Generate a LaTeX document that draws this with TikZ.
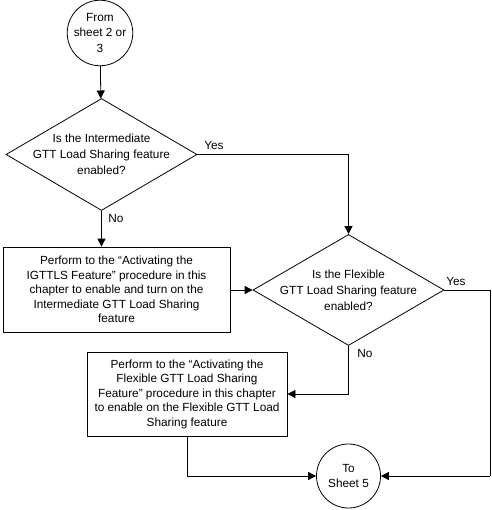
\documentclass[tikz,border=0pt]{standalone}
\usepackage{fontspec}
\setmainfont{Liberation Sans}
\usetikzlibrary{shapes.geometric,arrows.meta}
\begin{document}
\begin{tikzpicture}[x=1pt,y=1pt,
  line width=0.8pt,
  conn/.style={draw,-{Triangle[length=8pt,width=8pt]}},
  plain/.style={draw},
  term/.style={circle,draw,minimum size=64pt,inner sep=0pt,align=center,font=\fontsize{11.8}{15.5}\selectfont},
  dec/.style={diamond,draw,inner sep=0pt},
  dectext/.style={align=center,font=\fontsize{11.8}{16}\selectfont},
  procbox/.style={rectangle,draw,inner sep=0pt,align=center,font=\fontsize{11.8}{14.5}\selectfont},
  lbl/.style={font=\fontsize{11.8}{13}\selectfont,inner sep=0pt}]
\useasboundingbox (0,0) rectangle (491,-510);
\node[term] (start) at (100,-33) {From\\sheet 2 or\\3};
\node[dec,minimum width=191pt,minimum height=112pt] (d1) at (101.5,-154.5) {};
\node[dectext] (d1t) at (d1) {Is the Intermediate\\GTT Load Sharing feature\\enabled?};
\node[procbox,minimum width=227pt,minimum height=85pt] (b1) at (116.5,-289.5) {Perform to the “Activating the\\IGTTLS Feature” procedure in this\\chapter to enable and turn on the\\Intermediate GTT Load Sharing\\feature};
\node[dec,minimum width=191pt,minimum height=111pt] (d2) at (348.5,-290) {};
\node[dectext] (d2t) at (d2) {Is the Flexible\\GTT Load Sharing feature\\enabled?};
\node[procbox,minimum width=200pt,minimum height=84pt] (b2) at (187,-394) {Perform to the “Activating the\\Flexible GTT Load Sharing\\Feature” procedure in this chapter\\to enable on the Flexible GTT Load\\Sharing feature};
\node[term] (end) at (348.5,-476) {To\\Sheet 5};
\coordinate (r1) at (490,-290);
\coordinate (r2) at (490,-476);
\coordinate (b2d) at (187,-476);
\draw[conn] (start) -- (d1);
\draw[conn] (d1.east) -| (d2.north);
\draw[conn] (d1.south) -- (d1.south |- b1.north);
\draw[conn] (b1.east |- d2.west) -- (d2.west);
\draw[conn] (d2.south) |- (b2.east);
\draw[plain] (d2.east) -- (r1) -- (r2);
\draw[conn] (r2) -- (end.east);
\draw[plain] (b2.south) -- (b2d);
\draw[conn] (b2d) -- (end.west);
\node[lbl] (y1) at (214,-145) {Yes};
\node[lbl] (n1) at (116,-218) {No};
\node[lbl] (y2) at (456,-281) {Yes};
\node[lbl] (n2) at (365,-353) {No};
\end{tikzpicture}
\end{document}
